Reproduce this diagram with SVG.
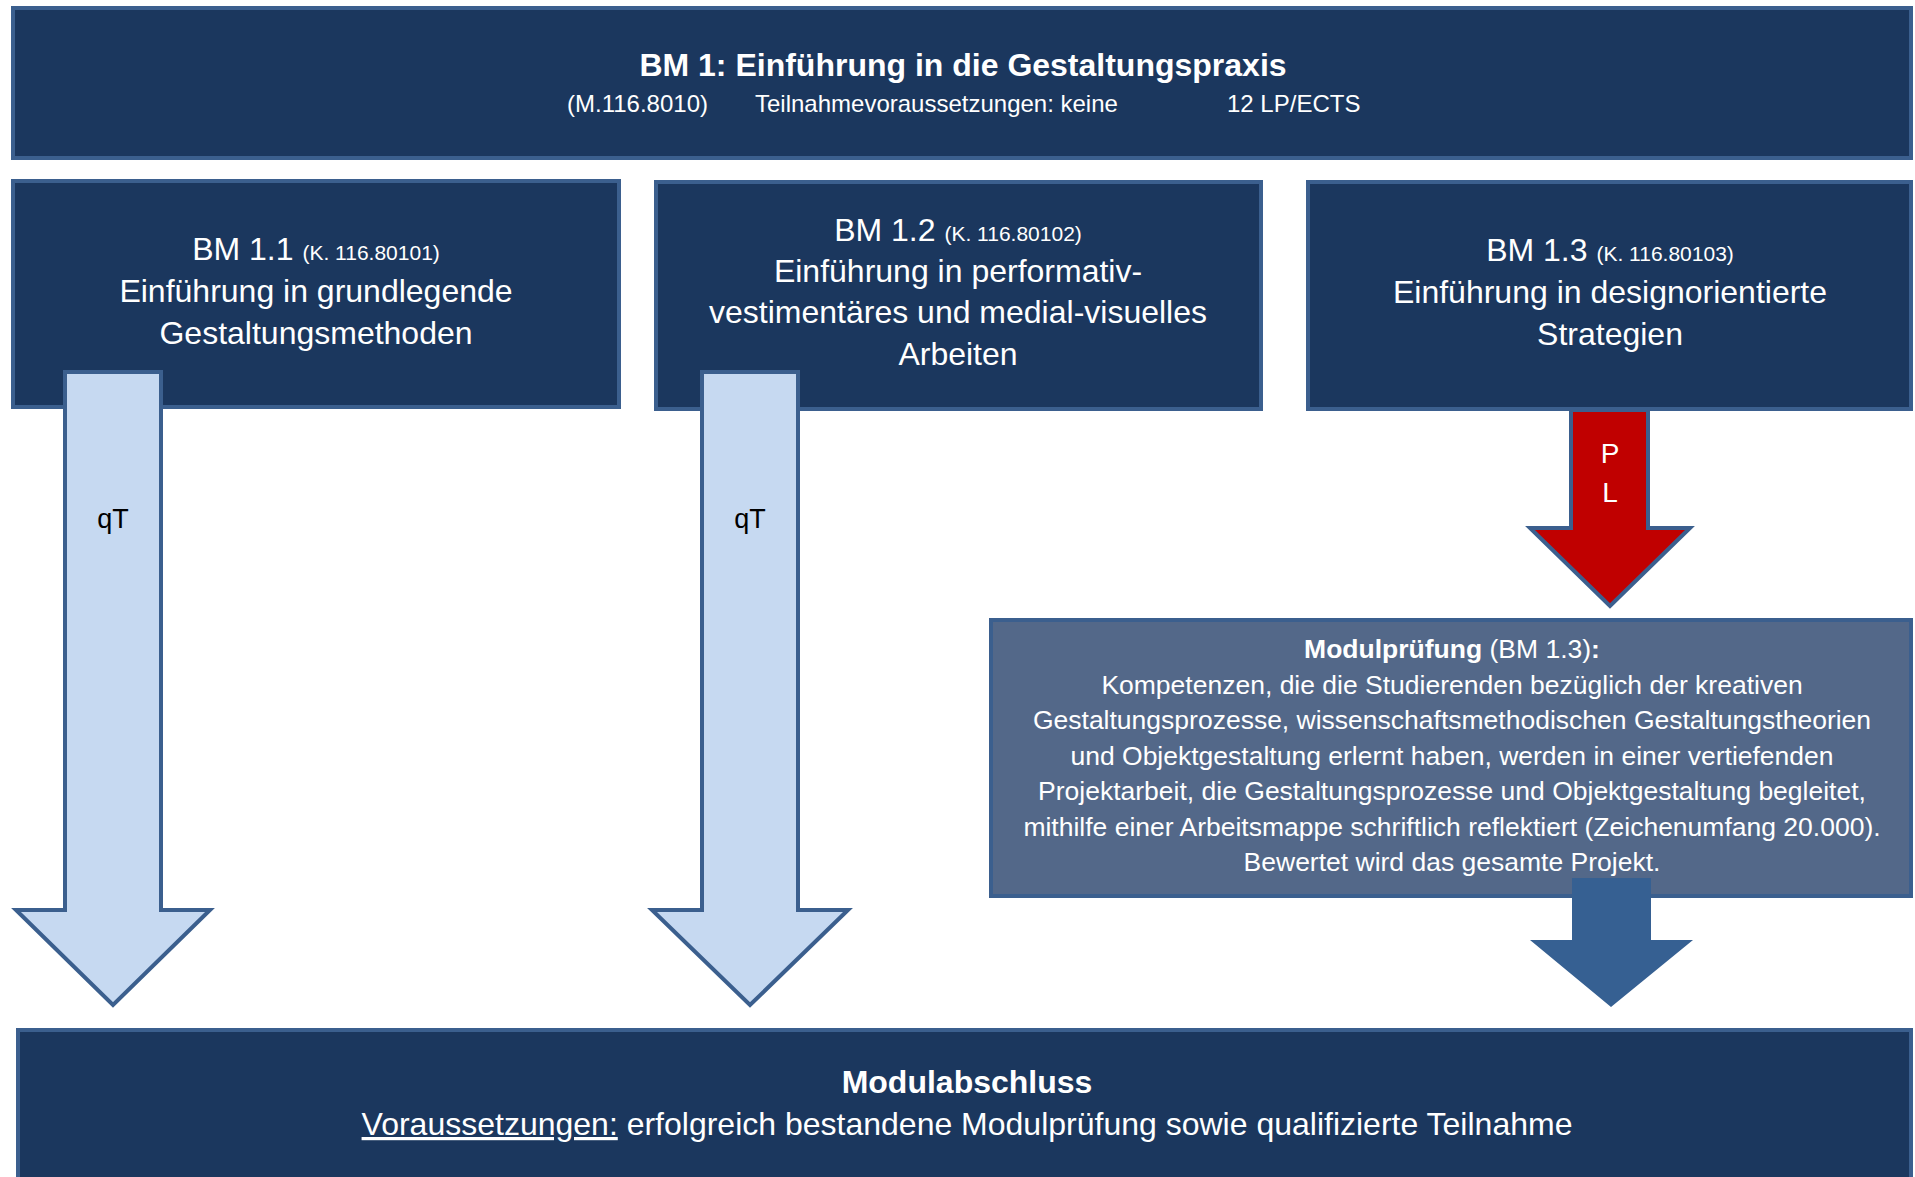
<svg xmlns="http://www.w3.org/2000/svg" width="1915" height="1177" viewBox="0 0 1915 1177">
<style>
.box{fill:#1b375e;stroke:#3b5f8e;stroke-width:4}
.exam{fill:#536889;stroke:#3b5f8e;stroke-width:4}
.t{font-family:"Liberation Sans",Arial,sans-serif;fill:#ffffff;text-anchor:middle}
.b{font-weight:bold}
.lt{fill:#c6d9f1;stroke:#3b5f8e;stroke-width:4;stroke-linejoin:miter}
.red{fill:#c00000;stroke:#3b5f8e;stroke-width:4}
.blu{fill:#366092;stroke:none}
.lbl{font-family:"Liberation Sans",Arial,sans-serif;text-anchor:middle}
</style>
<rect width="1915" height="1177" fill="#ffffff"/>
<g id="bm1">
<rect class="box" x="13" y="8" width="1898" height="150"/>
<text class="t b" x="963" y="76" font-size="32">BM 1: Einführung in die Gestaltungspraxis</text>
<text class="t" font-size="24" style="text-anchor:start" x="567" y="112">(M.116.8010)</text>
<text class="t" font-size="24" style="text-anchor:start" x="755" y="112">Teilnahmevoraussetzungen: keine</text>
<text class="t" font-size="24" style="text-anchor:start" x="1227" y="112">12 LP/ECTS</text>
</g>
<g id="bm11">
<rect class="box" x="13" y="181" width="606" height="226"/>
<text class="t" font-size="32" x="316" y="260">BM 1.1 <tspan font-size="21">(K. 116.80101)</tspan></text>
<text class="t" font-size="32" x="316" y="302">Einführung in grundlegende</text>
<text class="t" font-size="32" x="316" y="344">Gestaltungsmethoden</text>
</g>
<g id="bm12">
<rect class="box" x="656" y="182" width="605" height="227"/>
<text class="t" font-size="32" x="958" y="241">BM 1.2 <tspan font-size="21">(K. 116.80102)</tspan></text>
<text class="t" font-size="32" x="958" y="282">Einführung in performativ-</text>
<text class="t" font-size="32" x="958" y="323">vestimentäres und medial-visuelles</text>
<text class="t" font-size="32" x="958" y="365">Arbeiten</text>
</g>
<g id="bm13">
<rect class="box" x="1308" y="182" width="603" height="227"/>
<text class="t" font-size="32" x="1610" y="261">BM 1.3 <tspan font-size="21">(K. 116.80103)</tspan></text>
<text class="t" font-size="32" x="1610" y="303">Einführung in designorientierte</text>
<text class="t" font-size="32" x="1610" y="345">Strategien</text>
</g>
<g id="modulpruefung">
<rect class="exam" x="991" y="620" width="920" height="276"/>
<text class="t" font-size="26.5" x="1452" y="658"><tspan font-weight="bold">Modulprüfung</tspan> (BM 1.3)<tspan font-weight="bold">:</tspan></text>
<text class="t" font-size="26.5" x="1452" y="694">Kompetenzen, die die Studierenden bezüglich der kreativen</text>
<text class="t" font-size="26.5" x="1452" y="729">Gestaltungsprozesse, wissenschaftsmethodischen Gestaltungstheorien</text>
<text class="t" font-size="26.5" x="1452" y="765">und Objektgestaltung erlernt haben, werden in einer vertiefenden</text>
<text class="t" font-size="26.5" x="1452" y="800">Projektarbeit, die Gestaltungsprozesse und Objektgestaltung begleitet,</text>
<text class="t" font-size="26.5" x="1452" y="836">mithilfe einer Arbeitsmappe schriftlich reflektiert (Zeichenumfang 20.000).</text>
<text class="t" font-size="26.5" x="1452" y="871">Bewertet wird das gesamte Projekt.</text>
</g>
<g id="modulabschluss">
<rect class="box" x="18" y="1030" width="1893" height="160"/>
<text class="t b" font-size="32" x="967" y="1093">Modulabschluss</text>
<text class="t" font-size="32" x="967" y="1135"><tspan text-decoration="underline">Voraussetzungen:</tspan> erfolgreich bestandene Modulprüfung sowie qualifizierte Teilnahme</text>
</g>
<g id="connectors">
<g id="arrow-bm11">
<path class="lt" d="M65,372 L161,372 L161,910 L210,910 L113,1005 L16,910 L65,910 Z"/>
<text class="lbl" font-size="27" x="113" y="528" fill="#000000">qT</text>
</g>
<g id="arrow-bm12">
<path class="lt" d="M702,372 L798,372 L798,910 L848,910 L750,1005 L652,910 L702,910 Z"/>
<text class="lbl" font-size="27" x="750" y="528" fill="#000000">qT</text>
</g>
<g id="arrow-bm13">
<path class="red" d="M1571,410 L1648,410 L1648,528 L1690,528 L1610,606 L1530,528 L1571,528 Z"/>
<text class="lbl" font-size="28" x="1610" y="463" fill="#ffffff">P</text>
<text class="lbl" font-size="28" x="1610" y="502" fill="#ffffff">L</text>
</g>
<g id="arrow-exam">
<path class="blu" d="M1572,878 L1651,878 L1651,940 L1693,940 L1611,1007 L1530,940 L1572,940 Z"/>
</g>
</g>
</svg>
